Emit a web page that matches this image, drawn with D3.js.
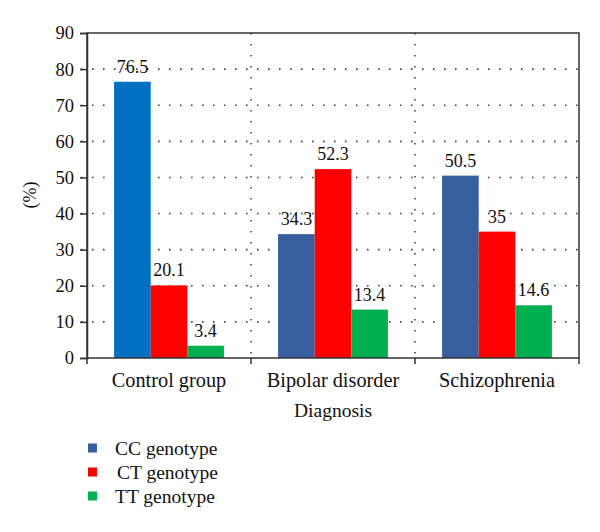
<!DOCTYPE html>
<html><head><meta charset="utf-8">
<script src="https://cdn.jsdelivr.net/npm/d3@7"></script>
</head><body style="margin:0"><svg id="c" width="600" height="532"></svg>
<script>
const categories = ["Control group", "Bipolar disorder", "Schizophrenia"];
const seriesNames = ["CC genotype", "CT genotype", "TT genotype"];
const ccValues = [76.5, 34.3, 50.5];
const ctValues = [20.1, 52.3, 35];
const ttValues = [3.4, 13.4, 14.6];
const valueLabels = [["76.5","34.3","50.5"],["20.1","52.3","35"],["3.4","13.4","14.6"]];
const yTicks = [0,10,20,30,40,50,60,70,80,90];
const seriesColors = ["#375E9F", "#FF0000", "#00B050"];
const controlCCColor = "#0070C0";

const series = [ccValues, ctValues, ttValues];
const svg = d3.select("#c");
const m = {l:87, r:21, t:33, b:174};
const W = 600, H = 532;
const x0 = d3.scaleBand().domain(categories).range([m.l, W-m.r]).paddingInner(0).paddingOuter(0);
const x1 = d3.scaleBand().domain(d3.range(3)).range([0, x0.bandwidth()]).paddingOuter(0.74).paddingInner(0);
const y = d3.scaleLinear().domain([0,90]).range([H-m.b, m.t]);

function txt(sel, size){ return sel.style("font-family", '"Liberation Serif"').attr("font-size", size+"px").attr("fill","#111"); }

const g = svg.append("g");
g.selectAll(".hg").data(yTicks.filter(d=>d>0&&d<90)).enter().append("line")
  .attr("x1", m.l-6).attr("x2", W-m.r).attr("y1", d=>y(d)).attr("y2", d=>y(d))
  .attr("stroke","#444").attr("stroke-width",1.6).attr("stroke-dasharray","1.6,9.4");
g.selectAll(".vg").data(categories.slice(1)).enter().append("line")
  .attr("x1", d=>x0(d)).attr("x2", d=>x0(d)).attr("y1", m.t).attr("y2", y(0))
  .attr("stroke","#444").attr("stroke-width",1.6).attr("stroke-dasharray","1.6,9.4");

categories.forEach((c,ci)=>{
  series.forEach((s,si)=>{
    const col = (ci===0 && si===0) ? controlCCColor : seriesColors[si];
    g.append("rect").attr("x", x0(c)+x1(si)).attr("width", x1.bandwidth())
      .attr("y", y(s[ci])).attr("height", y(0)-y(s[ci])).attr("fill", col);
    txt(g.append("text").attr("x", x0(c)+x1(si)+x1.bandwidth()/2).attr("y", y(s[ci])-9)
      .attr("text-anchor","middle"), 18).text(valueLabels[si][ci]);
  });
});

g.append("rect").attr("x", m.l).attr("y", m.t).attr("width", W-m.r-m.l).attr("height", y(0)-m.t)
  .attr("fill","none").attr("stroke","#333").attr("stroke-width",1.5);

const ya = d3.axisLeft(y).tickValues(yTicks).tickSize(7).tickPadding(6).tickFormat(d3.format("d"));
const yg = svg.append("g").attr("transform",`translate(${m.l},0)`).call(ya);
yg.attr("font-family", null).attr("font-size", null);
yg.select(".domain").attr("stroke","#333").attr("stroke-width",1.5);
yg.selectAll(".tick line").attr("stroke","#333").attr("stroke-width",1.5);
txt(yg.selectAll(".tick text"), 18.5);

const bounds = categories.map(c=>x0(c)).concat([W-m.r]);
svg.selectAll(".xt").data(bounds).enter().append("line")
  .attr("x1", d=>d).attr("x2", d=>d).attr("y1", y(0)).attr("y2", y(0)+6)
  .attr("stroke","#333").attr("stroke-width",1.5);
txt(svg.selectAll(".xl").data(categories).enter().append("text")
  .attr("x", d=>x0(d)+x0.bandwidth()/2).attr("y", 387)
  .attr("text-anchor","middle"), 20.3).text(d=>d);

txt(svg.append("text").attr("x", (m.l+W-m.r)/2).attr("y", 417)
  .attr("text-anchor","middle"), 19.5).text("Diagnosis");
txt(svg.append("text").attr("transform","translate(36,195) rotate(-90)")
  .attr("text-anchor","middle"), 18).text("(%)");

const lg = svg.append("g");
seriesNames.forEach((n,i)=>{
  const yy = 448 + i*24;
  lg.append("rect").attr("x",88).attr("y",yy-4.5).attr("width",9).attr("height",9).attr("fill",seriesColors[i]);
  txt(lg.append("text").attr("x", i===1 ? 117 : 115).attr("y",yy+6.5), 19.5).text(n);
});
</script></body></html>
